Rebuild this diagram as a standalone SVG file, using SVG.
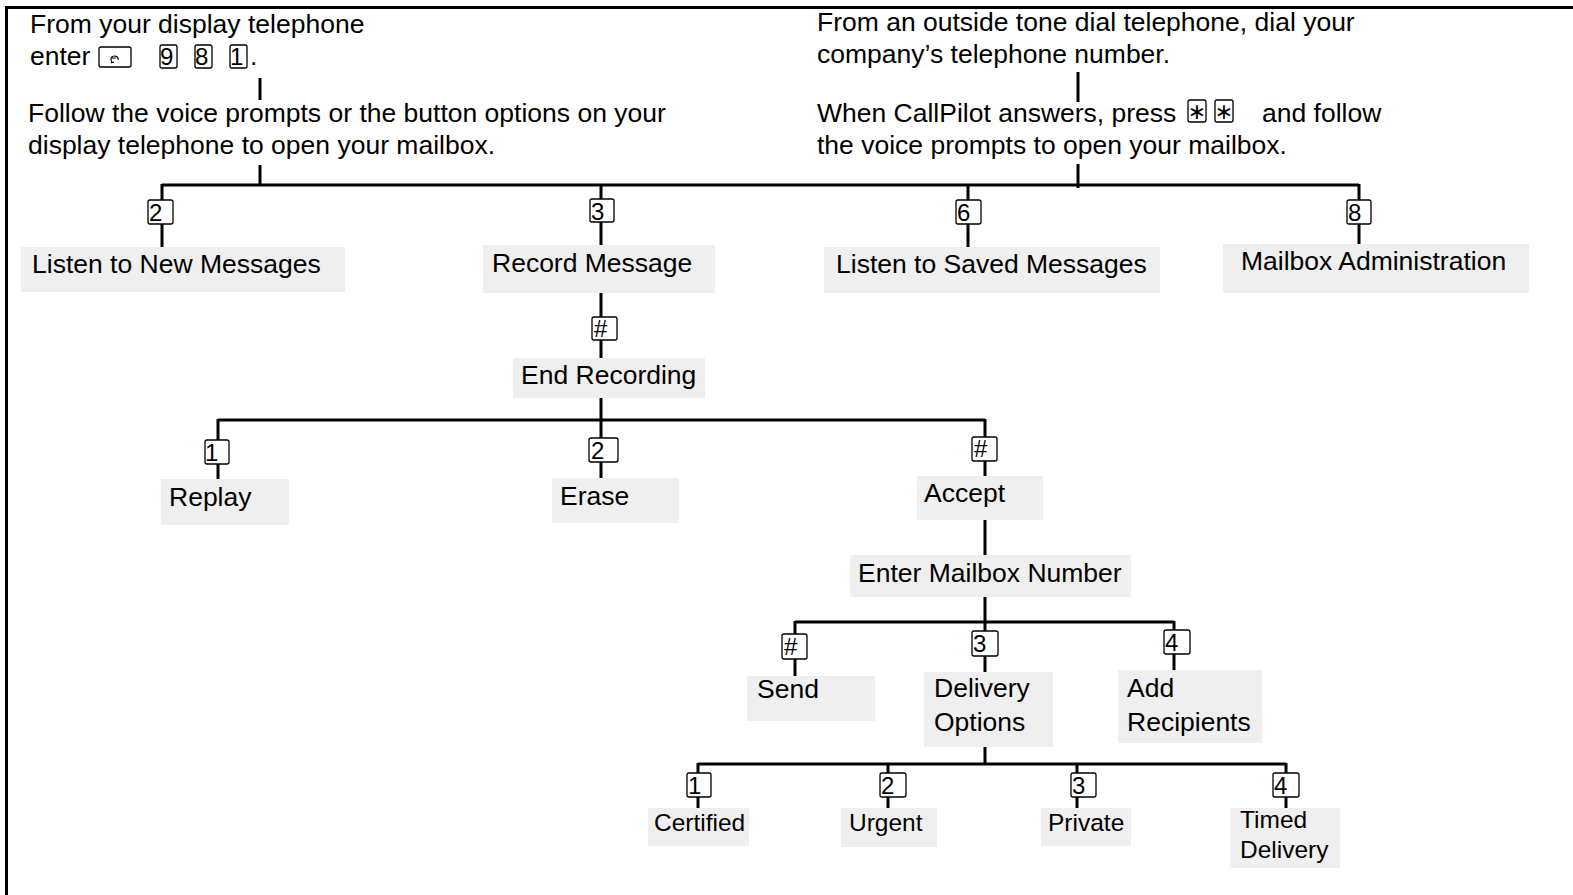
<svg xmlns="http://www.w3.org/2000/svg" width="1573" height="895" viewBox="0 0 1573 895">
<style>
text{font-family:"Liberation Sans",Arial,sans-serif;fill:#000}
.t{font-size:26.5px}
.s{font-size:24.5px}
.k{font-size:24px}
.st{font-size:22px;font-family:"DejaVu Sans",sans-serif;text-anchor:middle}
.box{fill:#efefef}
.key{fill:#fff;stroke:#000;stroke-width:1.3}
.ln{stroke:#000;stroke-width:3;fill:none}
</style>
<rect width="1573" height="895" fill="#fff"/>
<g id="frame">
<path class="ln" d="M5 7.5H1573M6.5 6V895"/>
</g>
<g id="connectors">
<path class="ln" d="M260 78V100M260 165V184M1078 72V102M1078 164V188"/>
<path class="ln" d="M162 185H1359M162 184V200M162 224V247M601 184V199M601 222V245M968 184V200M968 224V247M1359 184V200M1359 224V244"/>
<path class="ln" d="M601 293V317M601 340V358M601 398V420M218 420H985M218 419V440M218 464V479M601 419V438M601 462V478M985 419V437M985 461V476"/>
<path class="ln" d="M985 520V555M985 597V622M795 622H1174M795 621V634M795 659V676M985 621V631M985 656V672M1174 621V630M1174 654V670"/>
<path class="ln" d="M985 747V764M698 764H1286M698 763V773M698 797V808M888 763V773M888 797V808M1077 763V773M1077 797V808M1286 763V773M1286 797V808"/>
</g>
<g id="start-display">
<text class="t" x="30" y="33">From your display telephone</text>
<text class="t" x="30" y="65">enter</text>
<rect class="key" x="99" y="47" width="32" height="20" rx="2"/>
<path d="M112 62c-2-2-1-6 2-6s5 2 4 4M112 58h4M111 63l3-1" stroke="#000" stroke-width="1.2" fill="none"/>
<rect class="key" x="160" y="45" width="17" height="23" rx="2"/>
<text class="k" x="160" y="65">9</text>
<rect class="key" x="195" y="45" width="17" height="23" rx="2"/>
<text class="k" x="195" y="65">8</text>
<rect class="key" x="230" y="45" width="17" height="23" rx="2"/>
<text class="k" x="230" y="65">1</text>
<text class="t" x="250" y="65">.</text>
<text class="t" x="28" y="122">Follow the voice prompts or the button options on your</text>
<text class="t" x="28" y="154">display telephone to open your mailbox.</text>
</g>
<g id="start-outside">
<text class="t" x="817" y="31">From an outside tone dial telephone, dial your</text>
<text class="t" x="817" y="63">company’s telephone number.</text>
<text class="t" x="817" y="122">When CallPilot answers, press</text>
<rect class="key" x="1188" y="100" width="18" height="22" rx="2"/>
<text class="st" x="1197" y="119">∗</text>
<rect class="key" x="1215" y="100" width="18" height="22" rx="2"/>
<text class="st" x="1224" y="119">∗</text>
<text class="t" x="1262" y="122">and follow</text>
<text class="t" x="817" y="154">the voice prompts to open your mailbox.</text>
</g>
<g id="n-listen-new">
<rect class="key" x="148" y="200" width="25" height="24" rx="2"/><text class="k" x="149" y="221">2</text>
<rect class="box" x="21" y="247" width="324" height="45"/>
<text class="t" x="32" y="273">Listen to New Messages</text>
</g>
<g id="n-record">
<rect class="key" x="590" y="199" width="24" height="23" rx="2"/><text class="k" x="591" y="220">3</text>
<rect class="box" x="483" y="245" width="232" height="48"/>
<text class="t" x="492" y="272">Record Message</text>
</g>
<g id="n-listen-saved">
<rect class="key" x="956" y="200" width="25" height="24" rx="2"/><text class="k" x="957" y="221">6</text>
<rect class="box" x="824" y="247" width="336" height="46"/>
<text class="t" x="836" y="273">Listen to Saved Messages</text>
</g>
<g id="n-mailbox-admin">
<rect class="key" x="1347" y="200" width="24" height="24" rx="2"/><text class="k" x="1348" y="221">8</text>
<rect class="box" x="1223" y="244" width="306" height="49"/>
<text class="t" x="1241" y="270">Mailbox Administration</text>
</g>
<g id="n-end-recording">
<rect class="key" x="592" y="317" width="25" height="23" rx="2"/><text class="k" x="594" y="337">#</text>
<rect class="box" x="513" y="358" width="192" height="40"/>
<text class="t" x="521" y="384">End Recording</text>
</g>
<g id="n-replay">
<rect class="key" x="205" y="440" width="24" height="24" rx="2"/><text class="k" x="205" y="461">1</text>
<rect class="box" x="161" y="479" width="128" height="46"/>
<text class="t" x="169" y="506">Replay</text>
</g>
<g id="n-erase">
<rect class="key" x="589" y="438" width="29" height="24" rx="2"/><text class="k" x="591" y="459">2</text>
<rect class="box" x="552" y="478" width="127" height="45"/>
<text class="t" x="560" y="505">Erase</text>
</g>
<g id="n-accept">
<rect class="key" x="972" y="437" width="25" height="24" rx="2"/><text class="k" x="974" y="457">#</text>
<rect class="box" x="917" y="476" width="126" height="44"/>
<text class="t" x="924" y="502">Accept</text>
</g>
<g id="n-enter-mailbox">
<rect class="box" x="850" y="555" width="281" height="42"/>
<text class="t" x="858" y="582">Enter Mailbox Number</text>
</g>
<g id="n-send">
<rect class="key" x="782" y="634" width="25" height="25" rx="2"/><text class="k" x="784" y="655">#</text>
<rect class="box" x="747" y="676" width="128" height="45"/>
<text class="t" x="757" y="698">Send</text>
</g>
<g id="n-delivery-options">
<rect class="key" x="972" y="631" width="26" height="25" rx="2"/><text class="k" x="973" y="652">3</text>
<rect class="box" x="924" y="672" width="129" height="75"/>
<text class="t" x="934" y="697">Delivery</text>
<text class="t" x="934" y="731">Options</text>
</g>
<g id="n-add-recipients">
<rect class="key" x="1164" y="630" width="26" height="24" rx="2"/><text class="k" x="1165" y="651">4</text>
<rect class="box" x="1118" y="670" width="144" height="73"/>
<text class="t" x="1127" y="697">Add</text>
<text class="t" x="1127" y="731">Recipients</text>
</g>
<g id="n-certified">
<rect class="key" x="687" y="773" width="24" height="24" rx="2"/><text class="k" x="688" y="794">1</text>
<rect class="box" x="648" y="808" width="101" height="38"/>
<text class="s" x="654" y="831">Certified</text>
</g>
<g id="n-urgent">
<rect class="key" x="880" y="773" width="26" height="24" rx="2"/><text class="k" x="881" y="794">2</text>
<rect class="box" x="841" y="808" width="96" height="39"/>
<text class="s" x="849" y="831">Urgent</text>
</g>
<g id="n-private">
<rect class="key" x="1071" y="773" width="25" height="24" rx="2"/><text class="k" x="1072" y="794">3</text>
<rect class="box" x="1041" y="808" width="90" height="38"/>
<text class="s" x="1048" y="831">Private</text>
</g>
<g id="n-timed-delivery">
<rect class="key" x="1273" y="773" width="26" height="24" rx="2"/><text class="k" x="1274" y="794">4</text>
<rect class="box" x="1230" y="808" width="110" height="60"/>
<text class="s" x="1240" y="828">Timed</text>
<text class="s" x="1240" y="858">Delivery</text>
</g>
</svg>
